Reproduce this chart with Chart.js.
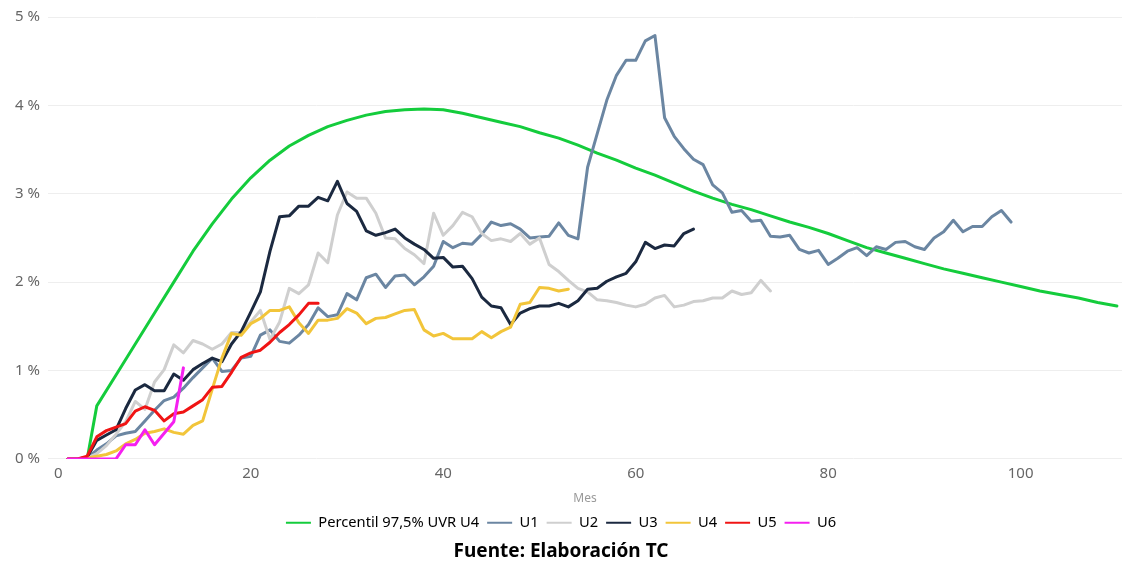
<!DOCTYPE html>
<html>
<head>
<meta charset="utf-8">
<script src="https://cdn.jsdelivr.net/npm/chart.js@4"></script>
<style>
  html, body { margin: 0; padding: 0; background: #ffffff; }
  #wrap { width: 1122px; height: 561px; position: relative; }
</style>
</head>
<body>
<div id="wrap"><canvas id="c"></canvas></div>
<script>
// ---- Data (values in %) ----
const xTicks = [0, 20, 40, 60, 80, 100];

const greenMonths = [3, 4, 6, 8, 10, 12, 14, 16, 18, 20, 22, 24, 26, 28, 30, 32, 34, 36, 38, 40,
  42, 44, 46, 48, 50, 52, 54, 56, 58, 60, 62, 64, 66, 68, 70, 72, 74, 76, 78, 80,
  82, 84, 86, 88, 90, 92, 94, 96, 98, 100, 102, 104, 106, 108, 110];
const greenValues = [0, 0.60, 0.95, 1.30, 1.65, 2.00, 2.35, 2.66, 2.94, 3.18, 3.38, 3.54, 3.66, 3.76, 3.83, 3.89, 3.93, 3.95, 3.96, 3.95,
  3.91, 3.86, 3.81, 3.76, 3.69, 3.63, 3.55, 3.46, 3.38, 3.29, 3.21, 3.12, 3.03, 2.95, 2.88, 2.82, 2.75, 2.68, 2.62, 2.55,
  2.47, 2.39, 2.33, 2.27, 2.21, 2.15, 2.10, 2.05, 2.00, 1.95, 1.90, 1.86, 1.82, 1.77, 1.73];

// series below start at month 1
const u1 = [0, 0, 0.01, 0.10, 0.17, 0.26, 0.29, 0.31, 0.43, 0.55, 0.66, 0.70, 0.80, 0.92, 1.03, 1.14, 0.99, 1.00, 1.14, 1.16,
  1.40, 1.46, 1.33, 1.31, 1.40, 1.52, 1.71, 1.61, 1.63, 1.87, 1.80, 2.05, 2.09, 1.94, 2.07, 2.08, 1.97, 2.06, 2.18, 2.46,
  2.39, 2.44, 2.43, 2.54, 2.68, 2.64, 2.66, 2.60, 2.50, 2.51, 2.52, 2.67, 2.53, 2.49, 3.30, 3.68, 4.06, 4.34, 4.51, 4.51,
  4.73, 4.79, 3.86, 3.65, 3.51, 3.39, 3.33, 3.10, 3.01, 2.79, 2.81, 2.69, 2.70, 2.52, 2.51, 2.53, 2.37, 2.33, 2.36, 2.20,
  2.27, 2.35, 2.39, 2.30, 2.40, 2.37, 2.45, 2.46, 2.40, 2.37, 2.50, 2.57, 2.70, 2.57, 2.63, 2.63, 2.74, 2.81, 2.68];
const u2 = [0, 0, 0.01, 0.06, 0.15, 0.28, 0.42, 0.65, 0.56, 0.87, 1.01, 1.29, 1.20, 1.34, 1.30, 1.24, 1.30, 1.43, 1.43, 1.55,
  1.68, 1.35, 1.55, 1.93, 1.87, 1.97, 2.33, 2.22, 2.76, 3.02, 2.95, 2.95, 2.78, 2.50, 2.49, 2.38, 2.31, 2.21, 2.78, 2.53,
  2.64, 2.79, 2.74, 2.55, 2.47, 2.49, 2.46, 2.55, 2.43, 2.50, 2.20, 2.12, 2.02, 1.93, 1.89, 1.80, 1.79, 1.77, 1.74, 1.72,
  1.75, 1.82, 1.85, 1.72, 1.74, 1.78, 1.79, 1.82, 1.82, 1.90, 1.86, 1.88, 2.02, 1.90];
const u3 = [0, 0, 0.02, 0.21, 0.27, 0.33, 0.57, 0.78, 0.84, 0.77, 0.77, 0.96, 0.89, 1.01, 1.08, 1.14, 1.10, 1.30, 1.44, 1.66,
  1.89, 2.35, 2.74, 2.75, 2.86, 2.86, 2.96, 2.92, 3.14, 2.89, 2.80, 2.58, 2.53, 2.56, 2.60, 2.50, 2.43, 2.37, 2.27, 2.28,
  2.17, 2.18, 2.04, 1.83, 1.73, 1.71, 1.52, 1.65, 1.70, 1.73, 1.73, 1.76, 1.72, 1.79, 1.92, 1.93, 2.01, 2.06, 2.10, 2.23,
  2.45, 2.38, 2.42, 2.41, 2.55, 2.60];
const u4 = [0, 0, 0.01, 0.03, 0.05, 0.09, 0.17, 0.22, 0.29, 0.31, 0.34, 0.30, 0.28, 0.38, 0.43, 0.79, 1.14, 1.42, 1.40, 1.53,
  1.59, 1.68, 1.68, 1.72, 1.54, 1.42, 1.57, 1.57, 1.59, 1.70, 1.65, 1.53, 1.59, 1.60, 1.64, 1.68, 1.69, 1.46, 1.39, 1.42,
  1.36, 1.36, 1.36, 1.44, 1.37, 1.44, 1.49, 1.75, 1.77, 1.94, 1.93, 1.90, 1.92];
const u5 = [0, 0, 0.03, 0.25, 0.32, 0.36, 0.40, 0.54, 0.59, 0.55, 0.43, 0.51, 0.53, 0.60, 0.67, 0.81, 0.82, 0.98, 1.15, 1.20,
  1.23, 1.32, 1.43, 1.52, 1.63, 1.76, 1.76];
const u6 = [0, 0, 0, 0, 0, 0, 0.16, 0.16, 0.33, 0.16, 0.29, 0.42, 1.03];

const seriesNames = ['Percentil 97,5% UVR U4', 'U1', 'U2', 'U3', 'U4', 'U5', 'U6'];
const seriesColors = ['#14cc3c', '#6b86a2', '#cfcfcf', '#1b2940', '#f2c53a', '#f01414', '#f520f0'];

// ---- Build datasets ----
const fromMonth1 = arr => arr.map((v, i) => ({ x: i + 1, y: v }));
const greenPts = greenMonths.map((m, i) => ({ x: m, y: greenValues[i] }));
const allData = [greenPts, fromMonth1(u1), fromMonth1(u2), fromMonth1(u3), fromMonth1(u4), fromMonth1(u5), fromMonth1(u6)];

const datasets = allData.map((d, i) => ({
  label: seriesNames[i],
  data: d,
  borderColor: seriesColors[i],
  backgroundColor: seriesColors[i],
  borderWidth: 3,
  pointRadius: 0,
  pointHoverRadius: 0,
  tension: 0,
  borderJoinStyle: 'round',
  borderCapStyle: 'round',
  fill: false,
  order: 6 - i
}));

const FONT = "'Segoe UI', 'Noto Sans', 'Open Sans', sans-serif";

new Chart(document.getElementById('c'), {
  type: 'line',
  data: { datasets },
  options: {
    responsive: true,
    maintainAspectRatio: false,
    animation: false,
    layout: { padding: { top: 17, right: 0, left: 0, bottom: 0 } },
    plugins: {
      tooltip: { enabled: false },
      legend: {
        position: 'bottom',
        labels: {
          sort: (a, b) => a.datasetIndex - b.datasetIndex,
          boxWidth: 25,
          boxHeight: 2,
          padding: 8,
          color: '#555555',
          font: { family: FONT, size: 14.7 },
          generateLabels: (chart) => chart.data.datasets.map((ds, i) => ({
            text: ds.label,
            fillStyle: ds.borderColor,
            strokeStyle: ds.borderColor,
            lineWidth: 0,
            hidden: false,
            datasetIndex: i
          }))
        }
      },
      title: {
        display: true,
        position: 'bottom',
        text: 'Fuente: Elaboración TC',
        color: '#000000',
        font: { family: FONT, size: 19, weight: 'bold', lineHeight: 1.0 },
        padding: { top: 2, bottom: 0 }
      }
    },
    scales: {
      x: {
        type: 'linear',
        min: -1.07,
        max: 110.53,
        afterBuildTicks: (scale) => { scale.ticks = xTicks.map(v => ({ value: v })); },
        grid: { display: false, drawTicks: false },
        border: { display: false },
        ticks: {
          color: '#666666',
          font: { family: FONT, size: 15 },
          padding: 6,
          maxRotation: 0
        },
        title: {
          display: true,
          text: 'Mes',
          color: '#999999',
          font: { family: FONT, size: 12 },
          padding: { top: 2, bottom: 2 }
        }
      },
      y: {
        min: 0,
        max: 5,
        afterFit: (scale) => { scale.width = 48; },
        grid: { color: '#eeeeee', lineWidth: 1, drawTicks: false },
        border: { display: false },
        ticks: {
          stepSize: 1,
          padding: 8,
          color: '#666666',
          font: { family: FONT, size: 15 },
          callback: (v) => v + ' %'
        }
      }
    }
  }
});
</script>
</body>
</html>
